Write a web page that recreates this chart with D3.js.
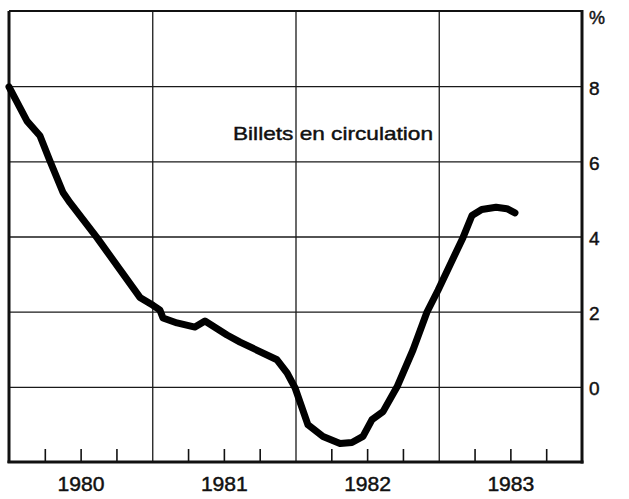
<!DOCTYPE html>
<html>
<head>
<meta charset="utf-8">
<script src="https://cdn.jsdelivr.net/npm/d3@7"></script>
<style>
  html, body { margin: 0; padding: 0; background: #fff; }
  svg { display: block; }
  text { font-family: "Liberation Sans", Arial, Helvetica, sans-serif; fill: #111; stroke: #111; stroke-width: 0.45px; }
</style>
</head>
<body>
<svg id="chart" width="629" height="499"></svg>
<script>
// ---- data ----
const dates = [1980.0, 1980.126, 1980.216, 1980.286, 1980.377, 1980.426, 1980.614, 1980.914,
  1981.005, 1981.054, 1981.075, 1981.173, 1981.298, 1981.368, 1981.522, 1981.613, 1981.871,
  1981.941, 1981.997, 1982.087, 1982.192, 1982.311, 1982.394, 1982.471, 1982.534, 1982.611,
  1982.709, 1982.820, 1982.918, 1982.995, 1983.169, 1983.232, 1983.300, 1983.400, 1983.476, 1983.532];
const values = [7.98, 7.07, 6.68, 6.01, 5.17, 4.90, 3.97, 2.38,
  2.17, 2.04, 1.83, 1.70, 1.59, 1.75, 1.38, 1.19, 0.72,
  0.37, -0.03, -1.01, -1.32, -1.51, -1.48, -1.32, -0.87, -0.66,
  0.0, 0.98, 1.99, 2.57, 3.97, 4.56, 4.72, 4.78, 4.74, 4.63];
const yTicks = [0, 2, 4, 6, 8];
const yearBoundaries = [1981, 1982, 1983];
const quarterTicks = [1980.25, 1980.5, 1980.75, 1981.25, 1981.5, 1981.75,
  1982.25, 1982.5, 1982.75, 1983.25, 1983.5, 1983.75];
const yearLabels = ["1980", "1981", "1982", "1983"];
const seriesLabel = "Billets en circulation";
const unitLabel = "%";

// ---- layout ----
const L = 9, R = 582, T = 11, B = 462;
const svg = d3.select("#chart");
const x = d3.scaleLinear().domain([1980, 1984]).range([L, R]);
const y = d3.scaleLinear().domain([-2, 10]).range([B, T]);

// horizontal gridlines + right labels
const yAxis = d3.axisRight(y).tickValues(yTicks).tickSize(-(R - L)).tickPadding(7).tickFormat(d3.format("d"));
const gy = svg.append("g").attr("transform", `translate(${R},0)`).call(yAxis);
gy.select(".domain").remove();
gy.selectAll(".tick line").attr("stroke", "#1a1a1a").attr("stroke-width", 1.3);
gy.selectAll(".tick text").attr("font-size", 19).attr("dy", "0.42em").attr("font-family", null);

// vertical gridlines at year boundaries
const xGrid = d3.axisBottom(x).tickValues(yearBoundaries).tickSize(-(B - T)).tickFormat("");
const gx = svg.append("g").attr("transform", `translate(0,${B})`).call(xGrid);
gx.select(".domain").remove();
gx.selectAll(".tick line").attr("stroke", "#1a1a1a").attr("stroke-width", 1.3);

// quarter ticks
const xQ = d3.axisBottom(x).tickValues(quarterTicks).tickSize(-13).tickFormat("");
const gq = svg.append("g").attr("transform", `translate(0,${B})`).call(xQ);
gq.select(".domain").remove();
gq.selectAll(".tick line").attr("stroke", "#111").attr("stroke-width", 1.6);

// year labels
const xLab = d3.axisBottom(x).tickValues(yearLabels.map(d => +d + 0.5)).tickSize(0).tickPadding(15)
  .tickFormat((d, i) => yearLabels[i]);
const gl = svg.append("g").attr("transform", `translate(0,${B})`).call(xLab);
gl.select(".domain").remove();
gl.selectAll(".tick text").attr("font-size", 20).attr("dy", "0.71em").attr("font-family", null)
  .attr("textLength", 47).attr("lengthAdjust", "spacingAndGlyphs");

// frame
svg.append("line").attr("x1", L).attr("x2", R).attr("y1", T).attr("y2", T).attr("stroke", "#111").attr("stroke-width", 2);
svg.append("line").attr("x1", L).attr("x2", L).attr("y1", T).attr("y2", B + 1).attr("stroke", "#111").attr("stroke-width", 3);
svg.append("line").attr("x1", R).attr("x2", R).attr("y1", T - 1).attr("y2", B + 1.5).attr("stroke", "#111").attr("stroke-width", 3);
svg.append("line").attr("x1", L - 1.5).attr("x2", R + 1.5).attr("y1", B).attr("y2", B).attr("stroke", "#111").attr("stroke-width", 3);

// unit label
svg.append("text").attr("x", R + 7).attr("y", 24).attr("font-size", 18).text(unitLabel);

// series line
const data = dates.map((d, i) => ({ t: d, v: values[i] }));
const line = d3.line().x(d => x(d.t)).y(d => y(d.v)).curve(d3.curveLinear);
svg.append("path").datum(data).attr("d", line)
  .attr("fill", "none").attr("stroke", "#000").attr("stroke-width", 7)
  .attr("stroke-linejoin", "round").attr("stroke-linecap", "round");

// series label
svg.append("text").attr("x", 233).attr("y", 140).attr("font-size", 19)
  .attr("textLength", 200).attr("lengthAdjust", "spacingAndGlyphs").text(seriesLabel);
</script>
</body>
</html>
